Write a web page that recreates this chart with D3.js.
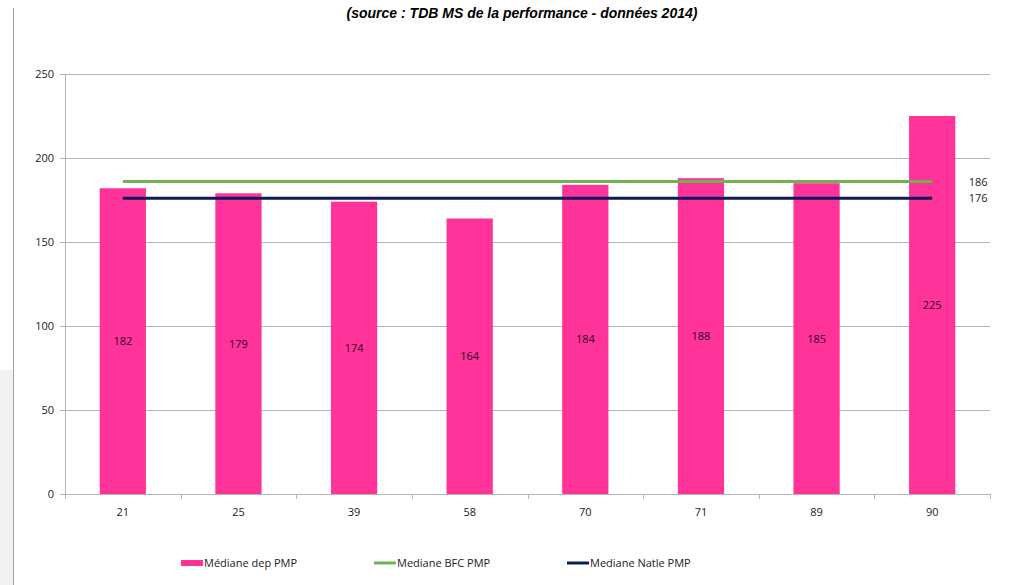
<!DOCTYPE html>
<html lang="fr">
<head>
<meta charset="UTF-8">
<title>Médiane PMP</title>
<script src="https://d3js.org/d3.v7.min.js"></script>
<style>
  body { margin: 0; background: #fff; }
  svg text { font-family: "Open Sans", "DejaVu Sans", sans-serif; }
</style>
</head>
<body>
<div id="chart"></div>
<script>
// data
var departements = ["21", "25", "39", "58", "70", "71", "89", "90"];
var medianeDep = [182, 179, 174, 164, 184, 188, 185, 225];
var medianeBFC = 186;
var medianeNatle = 176;
var yTicks = [0, 50, 100, 150, 200, 250];
var legendLabels = ["Médiane dep PMP", "Mediane BFC PMP", "Mediane Natle PMP"];

var W = 1028, H = 585;
var margin = {top: 74, right: 38, bottom: 91, left: 65};
var width = W - margin.left - margin.right,
    height = H - margin.top - margin.bottom;

var pink = "#ff3399", green = "#70b250", navy = "#0d1a5a", grid = "#b4b4b4";

var svg = d3.select("#chart").append("svg")
    .attr("width", W).attr("height", H);

// left frame remnants of the screenshot
svg.append("rect").attr("x", 0).attr("y", 370).attr("width", 13).attr("height", H - 370).attr("fill", "#f2f2f2");
svg.append("line").attr("x1", 13.5).attr("x2", 13.5).attr("y1", 8).attr("y2", H)
    .attr("stroke", "#a0a0a0");

svg.append("text")
    .attr("x", 522).attr("y", 18)
    .attr("text-anchor", "middle")
    .style("font-family", "'Liberation Sans Narrow', 'Liberation Sans', sans-serif")
    .style("font-weight", "bold").style("font-style", "italic")
    .style("font-size", "14px")
    .text("(source : TDB MS de la performance - données 2014)");

var g = svg.append("g").attr("transform", "translate(" + margin.left + "," + margin.top + ")");

var x = d3.scaleBand().domain(departements).range([0, width]).paddingInner(0.6).paddingOuter(0.3);
var xb = d3.scaleBand().domain(departements).range([0, width]);
var y = d3.scaleLinear().domain([0, 250]).range([height, 0]);

// gridlines
g.append("g").selectAll("line").data(yTicks.slice(1)).enter().append("line")
    .attr("x1", 0).attr("x2", width)
    .attr("y1", function(d) { return Math.round(y(d)) + 0.5; })
    .attr("y2", function(d) { return Math.round(y(d)) + 0.5; })
    .attr("stroke", grid);

// y axis
var yAxis = g.append("g")
    .call(d3.axisLeft(y).tickValues(yTicks).tickSize(5).tickPadding(6));
yAxis.select(".domain").attr("stroke", grid);
yAxis.selectAll(".tick line").attr("stroke", grid);
yAxis.selectAll("text").style("font-size", "11px").attr("fill", "#1a1a1a");

// bars
g.append("g").selectAll("rect").data(medianeDep).enter().append("rect")
    .attr("x", function(d, i) { return x(departements[i]); })
    .attr("width", x.bandwidth())
    .attr("y", function(d) { return y(d); })
    .attr("height", function(d) { return height - y(d); })
    .attr("fill", pink);

g.append("g").selectAll("text").data(medianeDep).enter().append("text")
    .attr("x", function(d, i) { return x(departements[i]) + x.bandwidth() / 2; })
    .attr("y", function(d) { return y(d / 2) + 4; })
    .attr("text-anchor", "middle")
    .style("font-size", "11px").attr("fill", "#2a0820")
    .text(function(d) { return d; });

// x axis
var xAxisG = g.append("g").attr("transform", "translate(0," + height + ")");
xAxisG.append("line").attr("x1", 0).attr("x2", width).attr("y1", 0.5).attr("y2", 0.5).attr("stroke", grid);
xAxisG.selectAll(".sep").data(departements.concat(["end"])).enter().append("line")
    .attr("x1", function(d, i) { return Math.round(i * xb.bandwidth()) + 0.5; })
    .attr("x2", function(d, i) { return Math.round(i * xb.bandwidth()) + 0.5; })
    .attr("y1", 0).attr("y2", 5).attr("stroke", grid);
xAxisG.selectAll("text").data(departements).enter().append("text")
    .attr("x", function(d) { return xb(d) + xb.bandwidth() / 2; })
    .attr("y", 22)
    .attr("text-anchor", "middle")
    .style("font-size", "11px").attr("fill", "#1a1a1a")
    .text(function(d) { return d; });

// median lines
var x0 = xb(departements[0]) + xb.bandwidth() / 2,
    x1 = xb(departements[departements.length - 1]) + xb.bandwidth() / 2;
[[medianeBFC, green], [medianeNatle, navy]].forEach(function(m) {
    g.append("line")
        .attr("x1", x0).attr("x2", x1)
        .attr("y1", y(m[0])).attr("y2", y(m[0]))
        .attr("stroke", m[1]).attr("stroke-width", 3);
    g.append("text")
        .attr("x", x1 + 46).attr("y", y(m[0]) + 4)
        .attr("text-anchor", "middle")
        .style("font-size", "11px").attr("fill", "#1a1a1a")
        .text(m[0]);
});

// legend
var legX = [181, 374, 567];
var leg = svg.append("g").attr("transform", "translate(0,563)");
leg.append("rect").attr("x", legX[0]).attr("y", -3).attr("width", 22).attr("height", 6).attr("fill", pink);
leg.append("line").attr("x1", legX[1]).attr("x2", legX[1] + 22).attr("y1", 0).attr("y2", 0)
    .attr("stroke", green).attr("stroke-width", 3);
leg.append("line").attr("x1", legX[2]).attr("x2", legX[2] + 22).attr("y1", 0).attr("y2", 0)
    .attr("stroke", navy).attr("stroke-width", 3);
leg.selectAll("text").data(legendLabels).enter().append("text")
    .attr("x", function(d, i) { return legX[i] + 23; })
    .attr("y", 4)
    .style("font-size", "11px").attr("fill", "#1a1a1a")
    .text(function(d) { return d; });
</script>
</body>
</html>
